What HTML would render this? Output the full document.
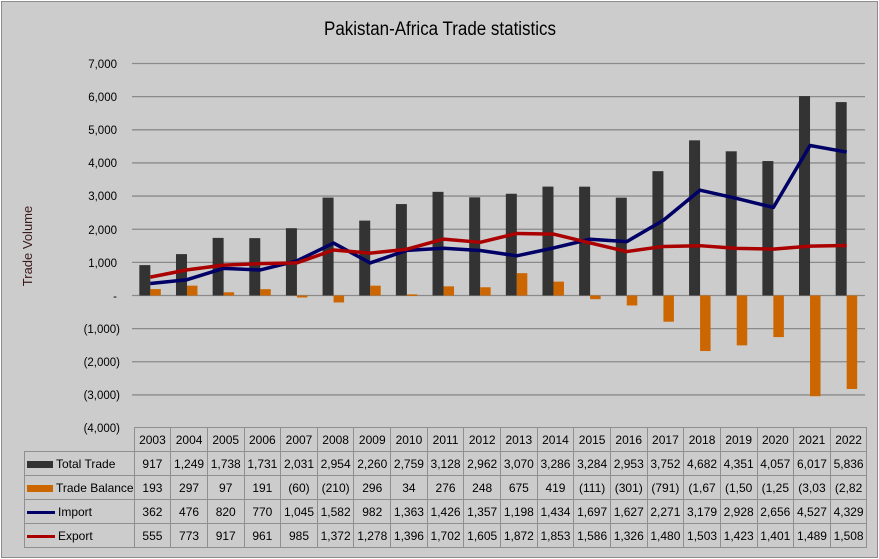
<!DOCTYPE html>
<html><head><meta charset="utf-8">
<style>
html,body{margin:0;padding:0;}
body{width:879px;height:559px;background:#fff;position:relative;overflow:hidden;font-family:"Liberation Sans",sans-serif;}
#frame{position:absolute;left:1px;top:1px;width:875px;height:555px;background:#cccccc;border:1px solid #8c8c8c;}
svg{position:absolute;left:0;top:0;}
table{position:absolute;left:24px;top:427px;border-collapse:collapse;table-layout:fixed;font-size:12px;color:#000;}
td{border:1px solid #8f8f8f;height:23px;padding:0;text-align:center;white-space:nowrap;overflow:hidden;}
td.lg{text-align:left;padding-left:2px;font-size:12px;}
td.blank{border:none;border-right:1px solid #8f8f8f;border-bottom:1px solid #8f8f8f;}
.k{display:inline-block;width:26px;height:7px;vertical-align:middle;margin-right:3px;}
.kl{display:inline-block;width:28px;height:3px;vertical-align:middle;margin-right:3px;}
</style></head><body>
<div id="frame"></div>
<svg width="879" height="559" id="s" xmlns="http://www.w3.org/2000/svg">
<text x="440" y="35" font-size="19" text-anchor="middle" font-family="Liberation Sans, sans-serif" textLength="232" lengthAdjust="spacingAndGlyphs">Pakistan-Africa Trade statistics</text>
<text transform="translate(32,246) rotate(-90)" font-size="13" text-anchor="middle" font-family="Liberation Sans, sans-serif" fill="#3a1a1a">Trade Volume</text>
<g font-size="11.5" text-anchor="end" font-family="Liberation Sans, sans-serif">
<text x="117" y="68">7,000</text>
<text x="117" y="101">6,000</text>
<text x="117" y="134">5,000</text>
<text x="117" y="167">4,000</text>
<text x="117" y="200">3,000</text>
<text x="117" y="234">2,000</text>
<text x="117" y="267">1,000</text>
<text x="117" y="300">-</text>
<text x="120" y="333">(1,000)</text>
<text x="120" y="366">(2,000)</text>
<text x="120" y="399">(3,000)</text>
<text x="120" y="432">(4,000)</text>
</g>
<g id="g"></g>
</svg>
<table>
<colgroup><col style="width:108px"><col span="20" style="width:36.65px"></colgroup>
<tr><td class="blank"></td><td>2003</td><td>2004</td><td>2005</td><td>2006</td><td>2007</td><td>2008</td><td>2009</td><td>2010</td><td>2011</td><td>2012</td><td>2013</td><td>2014</td><td>2015</td><td>2016</td><td>2017</td><td>2018</td><td>2019</td><td>2020</td><td>2021</td><td>2022</td></tr>
<tr><td class="lg"><span class="k" style="background:#333"></span>Total Trade</td><td>917</td><td>1,249</td><td>1,738</td><td>1,731</td><td>2,031</td><td>2,954</td><td>2,260</td><td>2,759</td><td>3,128</td><td>2,962</td><td>3,070</td><td>3,286</td><td>3,284</td><td>2,953</td><td>3,752</td><td>4,682</td><td>4,351</td><td>4,057</td><td>6,017</td><td>5,836</td></tr>
<tr><td class="lg"><span class="k" style="background:#cc6600"></span>Trade Balance</td><td>193</td><td>297</td><td>97</td><td>191</td><td>(60)</td><td>(210)</td><td>296</td><td>34</td><td>276</td><td>248</td><td>675</td><td>419</td><td>(111)</td><td>(301)</td><td>(791)</td><td>(1,67</td><td>(1,50</td><td>(1,25</td><td>(3,03</td><td>(2,82</td></tr>
<tr><td class="lg"><span class="kl" style="background:#000066"></span>Import</td><td>362</td><td>476</td><td>820</td><td>770</td><td>1,045</td><td>1,582</td><td>982</td><td>1,363</td><td>1,426</td><td>1,357</td><td>1,198</td><td>1,434</td><td>1,697</td><td>1,627</td><td>2,271</td><td>3,179</td><td>2,928</td><td>2,656</td><td>4,527</td><td>4,329</td></tr>
<tr><td class="lg"><span class="kl" style="background:#aa0000"></span>Export</td><td>555</td><td>773</td><td>917</td><td>961</td><td>985</td><td>1,372</td><td>1,278</td><td>1,396</td><td>1,702</td><td>1,605</td><td>1,872</td><td>1,853</td><td>1,586</td><td>1,326</td><td>1,480</td><td>1,503</td><td>1,423</td><td>1,401</td><td>1,489</td><td>1,508</td></tr>
</table>
<script>
var T=[917,1249,1738,1731,2031,2954,2260,2759,3128,2962,3070,3286,3284,2953,3752,4682,4351,4057,6017,5836];
var I=[362,476,820,770,1045,1582,982,1363,1426,1357,1198,1434,1697,1627,2271,3179,2928,2656,4527,4329];
var E=[555,773,917,961,985,1372,1278,1396,1702,1605,1872,1853,1586,1326,1480,1503,1423,1401,1489,1508];
function y(v){return 295.5-v*0.03314;}
function cx(i){return 132+36.65*(i+0.5);}
var h='';
for(var k=-4;k<=7;k++){if(k==-4)continue;h+='<line x1="132" x2="865" y1="'+y(k*1000)+'" y2="'+y(k*1000)+'" stroke="#8a8a8a" stroke-width="1.3"/>';}
for(var i=0;i<20;i++){var c=cx(i);
h+='<rect x="'+(c-11)+'" y="'+y(T[i])+'" width="11" height="'+(T[i]*0.03314)+'" fill="#333333"/>';
var b=E[i]-I[i];var y0=b>=0?y(b):295.5;
h+='<rect x="'+c+'" y="'+y0+'" width="10.5" height="'+Math.max(1.5,Math.abs(b)*0.03314)+'" fill="#cc6600"/>';}
function pl(a,col){var p=[];for(var i=0;i<20;i++)p.push(cx(i)+','+y(a[i]));return '<polyline points="'+p.join(' ')+'" fill="none" stroke="'+col+'" stroke-width="3.5" stroke-linejoin="round"/>';}
h+=pl(I,'#000066')+pl(E,'#aa0000');
document.getElementById('g').innerHTML=h;
</script>
</body></html>
